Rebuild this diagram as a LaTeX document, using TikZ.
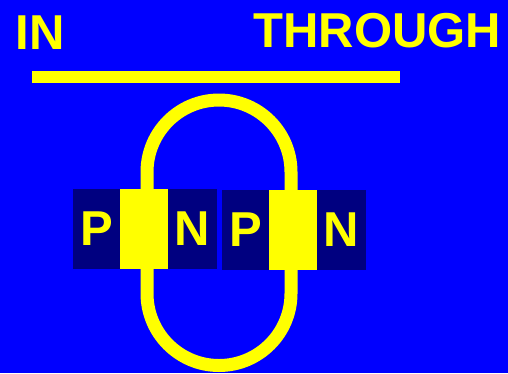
\documentclass[tikz,border=0pt]{standalone}
\usepackage{fontspec}
\setmainfont{Liberation Sans}
\usepackage{tikz}
\usetikzlibrary{positioning}
\definecolor{SlideBlue}{HTML}{0000FF}
\definecolor{SlideYellow}{HTML}{FFFF00}
\definecolor{LayerNavy}{HTML}{000080}

\tikzset{
  bigtext/.style={text=SlideYellow, font=\bfseries\fontsize{49}{50}\selectfont, inner sep=0pt},
  layer/.style={fill=LayerNavy, minimum height=80pt, inner sep=0pt, bigtext},
  junction/.style={fill=SlideYellow, minimum width=48pt, minimum height=80pt, inner sep=0pt}
}

\begin{document}
\begin{tikzpicture}[x=1pt, y=-1pt]
      \fill[SlideBlue] (0,0) rectangle (508,373);
      \useasboundingbox (0,0) rectangle (508,373);
      %% Titles
      \node[bigtext, anchor=base west] (in) at (15.5,49) {IN};
      \node[bigtext, anchor=base east] (through) at (501.5,47) {THROUGH};
      %% Bar
      \fill[SlideYellow] (32,71) rectangle (400,83);
      %% Current loop
      \draw[SlideYellow, line width=13pt] (147,172) arc[start angle=180, end angle=360, radius=72]
                      -- (291,293.5) arc[start angle=0, end angle=180, radius=72] -- cycle;
      %% Layers
      \node[layer, minimum width=47pt] (p1) at (96.5,229) {P};
      \node[junction] (j1) at (144,229) {};
      \node[layer, minimum width=49pt] (n1) at (192.5,229) {N};
      \node[layer, minimum width=47pt] (p2) at (245.5,230) {P};
      \node[junction] (j2) at (293,230) {};
      \node[layer, minimum width=49pt] (n2) at (341.5,230) {N};
    \end{tikzpicture}
\end{document}
